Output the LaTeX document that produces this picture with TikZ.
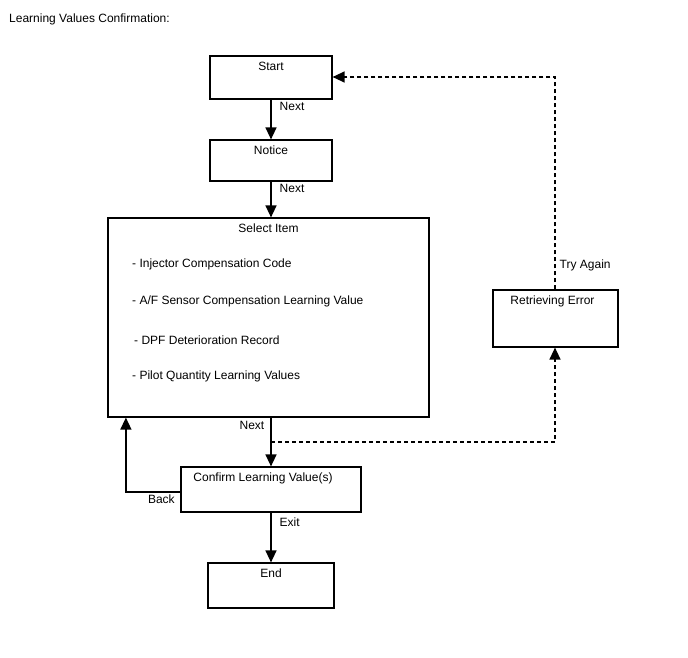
\documentclass[tikz,border=0pt]{standalone}
\usepackage{fontspec}
\setmainfont{Liberation Sans}
\usetikzlibrary{arrows.meta,positioning}

\tikzset{
  stepbox/.style={draw, line width=1.2pt, inner sep=0pt},
  boxtitle/.style={label={[anchor=north, inner sep=1pt, yshift=-5.5pt]north:#1}},
  lbl/.style={font=\fontsize{12}{14}\selectfont, inner sep=1pt},
  flow/.style={line width=1.4pt, -{Triangle[length=12pt,width=11pt]}},
  dflow/.style={flow, dash pattern=on 4pt off 3pt}
}

\begin{document}
\begin{tikzpicture}[x=1pt, y=-1pt, font=\fontsize{12}{14}\selectfont]
  \useasboundingbox (0,0) rectangle (688,658);

  \node[anchor=west, inner sep=0pt] (heading) at (9,19) {Learning Values Confirmation:};

  % Boxes
  \node[stepbox, minimum width=122pt, minimum height=43pt, boxtitle=Start] (start) at (271,77.5) {};
  \node[stepbox, minimum width=122pt, minimum height=41pt, boxtitle=Notice] (notice) at (271,160.5) {};
  \node[stepbox, minimum width=321pt, minimum height=199pt, boxtitle=Select Item] (select) at (268.5,317.5) {};
  \node[stepbox, minimum width=125pt, minimum height=57pt,
        label={[anchor=north, inner sep=1pt, yshift=-5pt, xshift=-3pt]north:Retrieving Error}] (retr) at (555.5,318.5) {};
  \node[stepbox, minimum width=180pt, minimum height=45pt,
        label={[anchor=north, inner sep=1pt, yshift=-5pt, xshift=-8pt]north:Confirm Learning Value(s)}] (confirm) at (271,489.5) {};
  \node[stepbox, minimum width=126pt, minimum height=45pt, boxtitle=End] (end) at (271,585.5) {};

  % Items
  \node[lbl, anchor=west] (item1) at (131,264) {- Injector Compensation Code};
  \node[lbl, anchor=west] (item2) at (131,301) {- A/F Sensor Compensation Learning Value};
  \node[lbl, anchor=west] (item3) at (133,340) {- DPF Deterioration Record};
  \node[lbl, anchor=west] (item4) at (131,376) {- Pilot Quantity Learning Values};

  % Main flow
  \draw[flow] (start.south) node[lbl, below right, xshift=7pt, yshift=-1pt] {Next} -- (notice.north);
  \draw[flow] (notice.south) node[lbl, below right, xshift=7pt, yshift=-1pt] {Next} -- (notice.south |- select.north);
  \draw[flow] (notice.south |- select.south) node[lbl, below left, xshift=-5pt, yshift=-2pt] {Next} -- (confirm.north);
  \draw[flow] (confirm.south) node[lbl, below right, xshift=7pt, yshift=-4pt] {Exit} -- (end.north);

  % Back
  \draw[flow] ([yshift=-2.5pt]confirm.west) node[lbl, below left, xshift=-4pt, yshift=-1.5pt] {Back} -| ([xshift=18.5pt]select.south west);

  % Error loop
  \draw[dflow] ([yshift=-24.5pt]notice.south |- select.south) -| ([xshift=-0.5pt]retr.south);
  \draw[dflow] ([xshift=-0.5pt]retr.north) node[lbl, above right, xshift=3pt, yshift=17pt] {Try Again} |- ([yshift=0.5pt]start.east);
\end{tikzpicture}
\end{document}
